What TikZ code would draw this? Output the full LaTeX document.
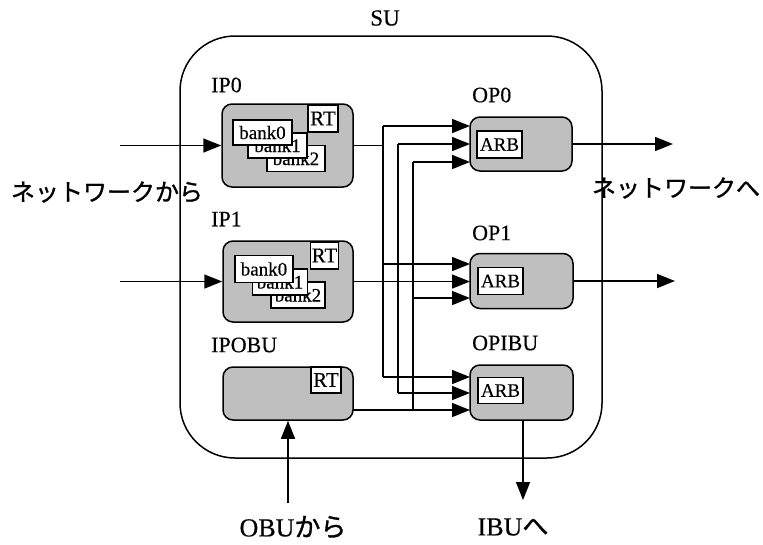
\documentclass[tikz,border=0pt]{standalone}
\usepackage{fontspec}
\setmainfont{Liberation Serif}[FakeBold=0.4]
\newfontfamily\jp{Noto Sans CJK JP}[FakeBold=1.2]
\usetikzlibrary{arrows.meta}
\begin{document}
\begin{tikzpicture}[x=1pt,y=-1pt,
  lbl/.style={font=\fontsize{22}{22}\selectfont, inner sep=0pt},
  big/.style={font=\fontsize{24}{24}\selectfont, inner sep=0pt},
  bot/.style={font=\fontsize{26}{26}\selectfont, inner sep=0pt},
  unit/.style={draw, line width=1.5pt, rounded corners=10pt, fill=black!25, inner sep=0pt},
  sub/.style={draw, line width=1.4pt, fill=white, inner sep=0pt, font=\fontsize{19}{19}\selectfont},
  wire/.style={line width=1.5pt},
  arr/.style={line width=1.5pt, -{Triangle[length=18pt,width=14pt]}}
]
\useasboundingbox (0,0) rectangle (763,544);

% outer SU box
\node[draw, line width=1.5pt, rounded corners=55pt, minimum width=422pt, minimum height=422pt, inner sep=0pt] (su) at (391,247) {};
\node[lbl, font=\fontsize{23}{23}\selectfont] (sulbl) at (385,18) {SU};

% input ports
\node[unit, minimum width=131pt, minimum height=83pt] (ip0) at (287.5,145.5) {};
\node[unit, minimum width=130pt, minimum height=81pt] (ip1) at (288,281.5) {};
\node[unit, minimum width=130pt, minimum height=53pt] (ipobu) at (288,393.5) {};

% RT boxes
\node[sub, minimum width=30pt, minimum height=27pt, font=\fontsize{21}{21}\selectfont] (rt0) at (323,118.5) {RT};
\node[sub, minimum width=28pt, minimum height=27pt, font=\fontsize{21}{21}\selectfont] (rt1) at (324.5,255.5) {RT};
\node[sub, minimum width=30pt, minimum height=26pt, font=\fontsize{21}{21}\selectfont] (rt2) at (326,380) {RT};

% banks IP0
\node[sub, minimum width=58pt, minimum height=26pt] (b02) at (296,158.5) {bank2};
\node[sub, minimum width=59pt, minimum height=25pt] (b01) at (277.5,145.5) {bank1};
\node[sub, minimum width=59pt, minimum height=25pt] (b00) at (262.5,132.5) {bank0};
% banks IP1
\node[sub, minimum width=54pt, minimum height=26pt] (b12) at (298,295) {bank2};
\node[sub, minimum width=55pt, minimum height=26pt] (b11) at (280,282) {bank1};
\node[sub, minimum width=58pt, minimum height=27pt] (b10) at (264,269) {bank0};

% labels
\node[lbl, anchor=west] (lip0) at (211,85) {IP0};
\node[lbl, anchor=west] (lip1) at (211,219) {IP1};
\node[lbl, anchor=west] (lipobu) at (211,345) {IPOBU};
\node[lbl, anchor=west] (lop0) at (472,95) {OP0};
\node[lbl, anchor=west] (lop1) at (472,233) {OP1};
\node[lbl, anchor=west] (lopibu) at (472,343) {OPIBU};

% output ports
\node[unit, minimum width=102pt, minimum height=54pt] (op0) at (521,144) {};
\node[unit, minimum width=103pt, minimum height=55pt] (op1) at (521.5,281) {};
\node[unit, minimum width=103pt, minimum height=55pt] (opibu) at (521.5,392.5) {};
\node[sub, minimum width=45pt, minimum height=27pt] (arb0) at (499.5,144.5) {ARB};
\node[sub, minimum width=45pt, minimum height=27pt] (arb1) at (500.5,281) {ARB};
\node[sub, minimum width=45pt, minimum height=26pt] (arb2) at (500.5,390.5) {ARB};

% coordinates
\coordinate (in0) at (120,145.5);
\coordinate (in1) at (120,281.5);
\coordinate (obu) at (288,503);
\coordinate (out0) at (673,144);
\coordinate (out1) at (675,281);
\coordinate (ibuA) at (523,420);
\coordinate (ibu) at (523,500);
\coordinate (ipobuo) at (353,410);

\coordinate (o0a) at (470,126);
\coordinate (o0b) at (470,144);
\coordinate (o0c) at (470,162);
\coordinate (o1a) at (470,264);
\coordinate (o1b) at (470,281.5);
\coordinate (o1c) at (470,298);
\coordinate (o2a) at (470,377);
\coordinate (o2b) at (470,393);
\coordinate (o2c) at (470,410);

\coordinate (b1t) at (383,126);
\coordinate (b1b) at (383,377);
\coordinate (b2t) at (398,144);
\coordinate (b2b) at (398,393);
\coordinate (b3t) at (413,162);
\coordinate (b3b) at (413,410);

% external connectors
\draw[arr] (in0) -- (ip0.west);
\draw[arr] (in1) -- (ip1.west);
\draw[arr] (obu) -- (ipobu.south);
\draw[arr] (op0.east) -- (out0);
\draw[arr] (op1.east) -- (out1);
\draw[arr] (ibuA) -- (ibu);

% IP0 -> bus 1
\draw[wire] (ip0.east) -- (b1t |- ip0.east);
\draw[wire] (b1t) -- (b1b);
\draw[arr] (b1t) -- (o0a);
\draw[arr] (b1t |- o1a) -- (o1a);
\draw[arr] (b1b) -- (o2a);

% IP1 -> bus 2
\draw[arr] (ip1.east |- o1b) -- (o1b);
\draw[wire] (b2t) -- (b2b);
\draw[arr] (b2t) -- (o0b);
\draw[arr] (b2b) -- (o2b);

% IPOBU -> bus 3
\draw[arr] (ipobuo) -- (o2c);
\draw[wire] (b3t) -- (b3b);
\draw[arr] (b3t) -- (o0c);
\draw[arr] (b3t |- o1c) -- (o1c);

% external labels
\node[big] (lfrom) at (107,192) {\jp ネットワークから};
\node[big] (lto) at (676,188) {\jp ネットワークへ};
\node[bot] (lobu) at (293,527) {OBU{\jp から}};
\node[bot] (libu) at (513,527) {IBU{\jp へ}};
\end{tikzpicture}
\end{document}
